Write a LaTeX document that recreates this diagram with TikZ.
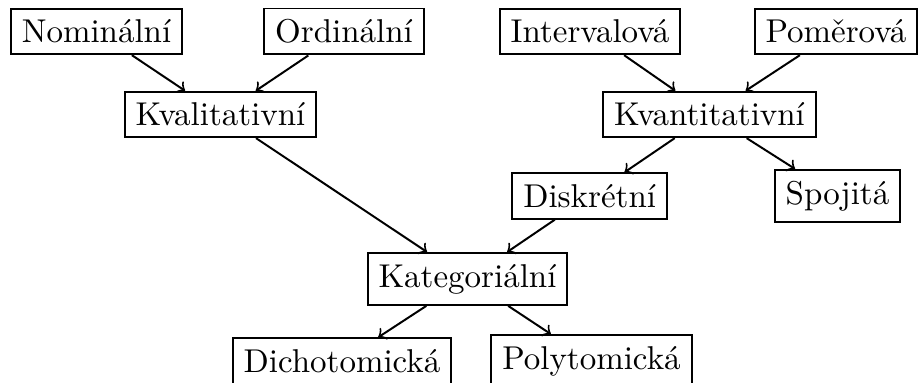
\documentclass[tikz,border=0pt]{standalone}
\begin{document}
\begin{tikzpicture}[x=0.30303pt,y=-0.30303pt,
  box/.style={draw,rectangle,line width=0.6pt,inner sep=3.33pt},
  link/.style={->,line width=0.6pt}]
\useasboundingbox (0,0) rectangle (918,383);
\node[box] (nom) at (96.5,31.5) {Nominální};
\node[box] (ord) at (344,31.5) {Ordinální};
\node[box] (int) at (590,31.5) {Intervalová};
\node[box] (pom) at (836,31.5) {Poměrová};
\node[box] (kval) at (220.5,114.5) {Kvalitativní};
\node[box] (kvan) at (709.5,114.5) {Kvantitativní};
\node[box] (disk) at (589.7,196) {Diskrétní};
\node[box] (spoj) at (837.5,196) {Spojitá};
\node[box] (kat) at (467.5,279) {Kategoriální};
\node[box] (dich) at (342,361) {Dichotomická};
\node[box] (poly) at (591.5,361) {Polytomická};
\draw[link] (nom) -- (kval);
\draw[link] (ord) -- (kval);
\draw[link] (int) -- (kvan);
\draw[link] (pom) -- (kvan);
\draw[link] (kvan) -- (disk);
\draw[link] (kvan) -- (spoj);
\draw[link] (kval) -- (kat);
\draw[link] (disk) -- (kat);
\draw[link] (kat) -- (dich);
\draw[link] (kat) -- (poly);
\end{tikzpicture}
\end{document}
